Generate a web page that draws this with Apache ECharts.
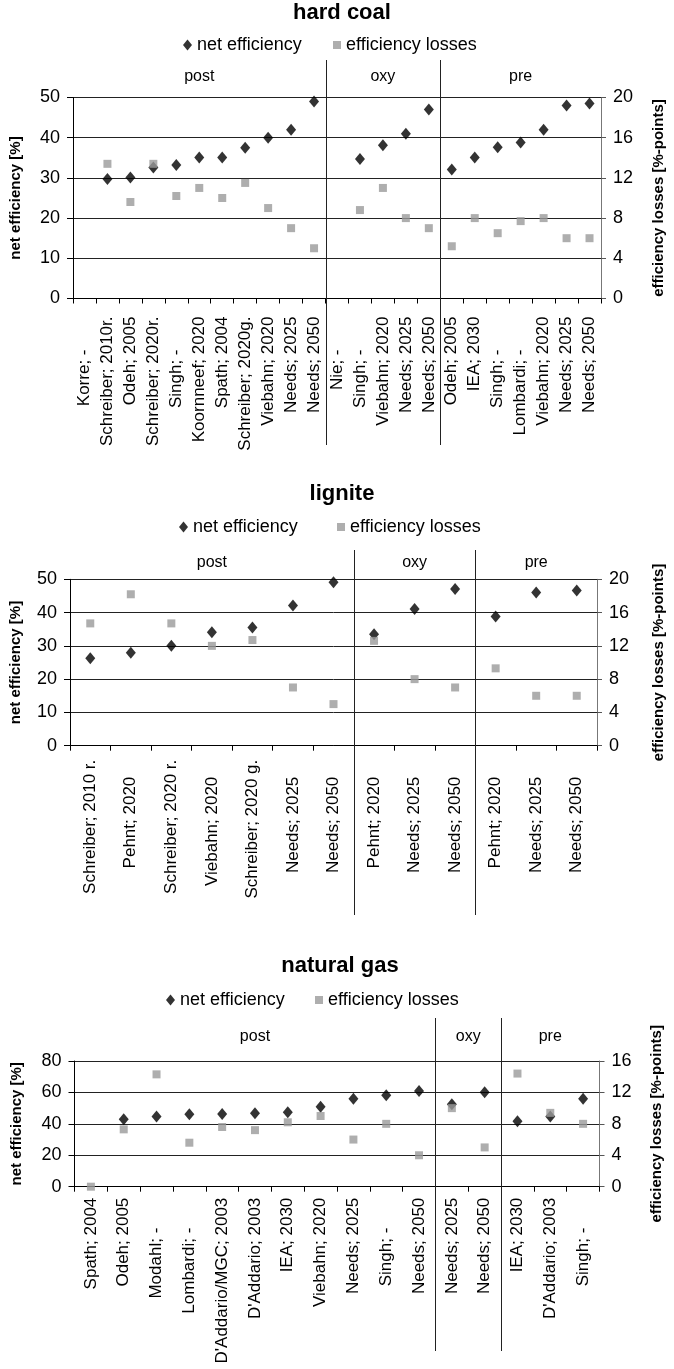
<!DOCTYPE html>
<html>
<head>
<meta charset="utf-8">
<title>Net efficiency and efficiency losses of capture processes</title>
<script src="https://cdn.jsdelivr.net/npm/echarts@6/dist/echarts.min.js"></script>
<style>
  html, body { margin: 0; padding: 0; background: #fff; }
  #chart { width: 674px; height: 1369px; }
</style>
</head>
<body>
<div id="chart"></div>
<script>
// ---- hard coal ----
const hardCoalCategories = [
  'Korre; -', 'Schreiber; 2010r.', 'Odeh; 2005', 'Schreiber; 2020r.', 'Singh; -',
  'Koornneef; 2020', 'Spath; 2004', 'Schreiber; 2020g.', 'Viebahn; 2020', 'Needs; 2025', 'Needs; 2050',
  'Nie; -', 'Singh; -', 'Viebahn; 2020', 'Needs; 2025', 'Needs; 2050',
  'Odeh; 2005', 'IEA; 2030', 'Singh; -', 'Lombardi; -', 'Viebahn; 2020', 'Needs; 2025', 'Needs; 2050'
];
const hardCoalNet = [null, 29.7, 30.1, 32.6, 33.2, 35.1, 35.1, 37.5, 40.0, 42.0, 49.0,
  null, 34.7, 38.1, 41.0, 47.0,
  32.1, 35.1, 37.6, 38.8, 42.0, 48.0, 48.5];
const hardCoalLoss = [null, 13.4, 9.6, 13.4, 10.2, 11.0, 10.0, 11.5, 9.0, 7.0, 5.0,
  null, 8.8, 11.0, 8.0, 7.0,
  5.2, 8.0, 6.5, 7.7, 8.0, 6.0, 6.0];
const hardCoalSections = [['post', 11], ['oxy', 5], ['pre', 7]];

// ---- lignite ----
const ligniteCategories = [
  'Schreiber; 2010 r.', 'Pehnt; 2020', 'Schreiber; 2020 r.', 'Viebahn; 2020', 'Schreiber; 2020 g.',
  'Needs; 2025', 'Needs; 2050',
  'Pehnt; 2020', 'Needs; 2025', 'Needs; 2050',
  'Pehnt; 2020', 'Needs; 2025', 'Needs; 2050'
];
const ligniteNet = [26.3, 27.9, 30.0, 34.1, 35.5, 42.1, 49.1, 33.5, 41.1, 47.1, 38.8, 46.0, 46.6];
const ligniteLoss = [14.7, 18.2, 14.7, 12.0, 12.7, 7.0, 5.0, 12.6, 8.0, 7.0, 9.3, 6.0, 6.0];
const ligniteSections = [['post', 7], ['oxy', 3], ['pre', 3]];

// ---- natural gas ----
const gasCategories = [
  'Spath; 2004', 'Odeh; 2005', 'Modahl; -', 'Lombardi; -', "D'Addario/MGC; 2003", "D'Addario; 2003",
  'IEA; 2030', 'Viebahn; 2020', 'Needs; 2025', 'Singh; -', 'Needs; 2050',
  'Needs; 2025', 'Needs; 2050',
  'IEA; 2030', "D'Addario; 2003", 'Singh; -'
];
const gasNet = [null, 42.9, 44.6, 46.1, 46.3, 46.7, 47.4, 50.9, 56.0, 58.2, 60.9, 52.5, 60.1, 41.6, 44.6, 56.0];
const gasLoss = [0, 7.3, 14.3, 5.6, 7.6, 7.2, 8.2, 9.0, 6.0, 8.0, 4.0, 10.0, 5.0, 14.4, 9.4, 8.0];
const gasSections = [['post', 11], ['oxy', 2], ['pre', 3]];

const leftAxisName = 'net efficiency [%]';
const rightAxisName = 'efficiency losses [%-points]';
const netName = 'net efficiency';
const lossName = 'efficiency losses';

const FONT = '"Liberation Sans", Arial, Helvetica, sans-serif';

// Panel set-up: data plus the pixel layout of each of the three stacked charts
const panels = [
  {
    title: 'hard coal', categories: hardCoalCategories, net: hardCoalNet, loss: hardCoalLoss,
    sections: hardCoalSections, netMax: 50, netStep: 10, lossMax: 20, lossStep: 4,
    labelPad: v => (v.endsWith('-') ? 33 : 0),
    L: { left: 73, top: 97.5, width: 533, height: 201, titleX: 342, titleY: 14, legendY: 46,
         legendNet: 183, legendLoss: 333, sectionY: 77, sepTop: 60, sepBottom: 445,
         labelMargin: 18, leftGap: 50, rightGap: 50 }
  },
  {
    title: 'lignite', categories: ligniteCategories, net: ligniteNet, loss: ligniteLoss,
    sections: ligniteSections, netMax: 50, netStep: 10, lossMax: 20, lossStep: 4,
    labelPad: v => (v.startsWith('Schreiber') ? 0 : 17),
    L: { left: 69, top: 579.3, width: 532.5, height: 166.4, titleX: 342, titleY: 495, legendY: 528,
         legendNet: 179, legendLoss: 337, sectionY: 563, sepTop: 550, sepBottom: 915,
         labelMargin: 14, leftGap: 47, rightGap: 54 }
  },
  {
    title: 'natural gas', categories: gasCategories, net: gasNet, loss: gasLoss,
    sections: gasSections, netMax: 80, netStep: 20, lossMax: 16, lossStep: 4,
    labelPad: v => (v.endsWith('-') ? 30 : 0),
    L: { left: 74.5, top: 1061, width: 525, height: 125.7, titleX: 340, titleY: 967, legendY: 1001,
         legendNet: 166, legendLoss: 315, sectionY: 1037, sepTop: 1018, sepBottom: 1351,
         labelMargin: 11, leftGap: 50, rightGap: 50 }
  }
];

const toPairs = arr => arr.map((v, i) => (v == null ? null : [i, v])).filter(Boolean);

const option = {
  animation: false,
  backgroundColor: '#fff',
  textStyle: { fontFamily: FONT, color: '#000' },
  title: [], legend: [], grid: [], xAxis: [], yAxis: [], series: []
};

panels.forEach((p, i) => {
  const L = p.L;
  option.title.push({
    text: p.title, left: L.titleX, top: L.titleY - 12, textAlign: 'center', padding: 0,
    textStyle: { fontFamily: FONT, fontSize: 22, fontWeight: 'bold', color: '#000' }
  });
  const legendText = { fontFamily: FONT, fontSize: 18, color: '#000' };
  option.legend.push({
    data: [{ name: netName, icon: 'diamond' }], left: L.legendNet, top: L.legendY - 10,
    itemWidth: 9, itemHeight: 11, itemGap: 0, padding: 0, selectedMode: false, textStyle: legendText
  });
  option.legend.push({
    data: [{ name: lossName, icon: 'rect' }], left: L.legendLoss, top: L.legendY - 10,
    itemWidth: 8, itemHeight: 8, itemGap: 0, padding: 0, selectedMode: false, textStyle: legendText
  });
  option.grid.push({ left: L.left, top: L.top, width: L.width, height: L.height });
  option.xAxis.push({
    type: 'category', gridIndex: i, data: p.categories, boundaryGap: true,
    axisLine: { lineStyle: { color: '#000', width: 1 } },
    axisTick: { show: true, interval: 0, length: 5, lineStyle: { color: '#000' } },
    axisLabel: {
      interval: 0, rotate: 90, margin: L.labelMargin, fontSize: 17, fontFamily: FONT, color: '#000',
      formatter: v => (p.labelPad(v) > 0 ? v + '{pad| }' : v),
      rich: { pad: { width: Math.max(0, ...p.categories.map(p.labelPad)) } }
    },
    splitLine: { show: false }
  });
  option.yAxis.push({
    type: 'value', gridIndex: i, position: 'left', min: 0, max: p.netMax, interval: p.netStep,
    name: leftAxisName, nameLocation: 'middle', nameGap: L.leftGap, nameRotate: 90,
    nameTextStyle: { fontFamily: FONT, fontSize: 15, fontWeight: 'bold', color: '#000' },
    axisLine: { show: true, lineStyle: { color: '#000' } },
    axisTick: { show: true, length: 6, lineStyle: { color: '#000' } },
    axisLabel: { fontSize: 18, fontFamily: FONT, color: '#000', margin: 13 },
    splitLine: { show: true, lineStyle: { color: '#222', width: 1 } }
  });
  option.yAxis.push({
    type: 'value', gridIndex: i, position: 'right', min: 0, max: p.lossMax, interval: p.lossStep,
    name: rightAxisName, nameLocation: 'middle', nameGap: L.rightGap, nameRotate: 90,
    nameTextStyle: { fontFamily: FONT, fontSize: 15, fontWeight: 'bold', color: '#000' },
    axisLine: { show: true, lineStyle: { color: '#777' } },
    axisTick: { show: true, length: 5, lineStyle: { color: '#555' } },
    axisLabel: { fontSize: 18, fontFamily: FONT, color: '#000', margin: 12 },
    splitLine: { show: false }
  });
  option.series.push({
    type: 'scatter', name: netName, xAxisIndex: i, yAxisIndex: 2 * i, clip: false,
    symbol: 'diamond', symbolSize: [10, 12], itemStyle: { color: '#000' },
    data: toPairs(p.net), z: 3
  });
  option.series.push({
    type: 'scatter', name: lossName, xAxisIndex: i, yAxisIndex: 2 * i + 1, clip: false,
    symbol: 'rect', symbolSize: 8, itemStyle: { color: '#9a9a9a' },
    data: toPairs(p.loss), z: 4
  });
});

const chart = echarts.init(document.getElementById('chart'), null, { renderer: 'canvas' });
chart.setOption(option);

// Section captions and dividers, placed at category boundaries taken from each x axis
const graphics = [];
panels.forEach((p, i) => {
  const L = p.L;
  const center = k => chart.convertToPixel({ xAxisIndex: i }, k);
  const step = center(1) - center(0);
  const edge = k => center(0) + (k - 0.5) * step;
  let start = 0;
  p.sections.forEach(([name, count], s) => {
    const x0 = edge(start), x1 = edge(start + count);
    graphics.push({
      type: 'text', x: (x0 + x1) / 2, y: L.sectionY, z: 10,
      style: { text: name, fontFamily: FONT, fontSize: 16, fill: '#000', align: 'center', verticalAlign: 'middle' }
    });
    if (s > 0) {
      const x = Math.round(x0) + 0.5;
      graphics.push({
        type: 'line', z: 10,
        shape: { x1: x, y1: L.sepTop, x2: x, y2: L.sepBottom },
        style: { stroke: '#222', lineWidth: 1 }
      });
    }
    start += count;
  });
});
chart.setOption({ graphic: graphics });
</script>
</body>
</html>
